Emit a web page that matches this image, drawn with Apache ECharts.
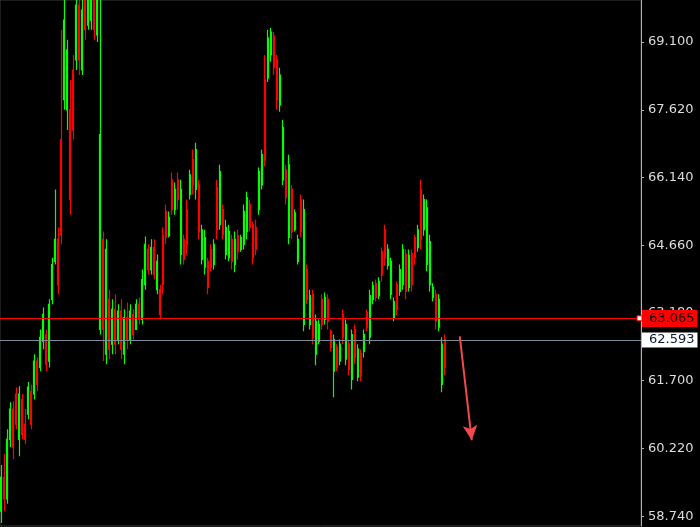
<!DOCTYPE html>
<html>
<head>
<meta charset="utf-8">
<script src="https://cdn.jsdelivr.net/npm/echarts@6/dist/echarts.min.js"></script>
<style>
html,body{margin:0;padding:0;background:#000;}
#c{width:700px;height:527px;}
</style>
</head>
<body>
<div id="c"></div>
<script>
// ---- data ----
const categories = Array.from({length: 214}, (_, i) => String(i + 1));
const openP = [
58.85,59.59,59.12,60.42,61.08,61.41,60.42,61.29,60.75,60.97,
61.47,61.41,62.13,61.99,62.56,62.71,62.13,63.48,64.31,64.79,
66.97,67.84,67.62,67.62,68.49,68.71,69.91,68.49,70.24,69.47,
69.58,70.46,69.26,62.82,64.79,62.28,63.48,62.50,63.26,62.60,
63.22,62.28,63.08,62.60,63.15,62.82,63.37,63.04,63.80,64.57,
64.13,64.61,63.69,63.69,64.87,65.40,64.87,66.09,65.44,66.09,
64.46,64.79,65.44,65.77,66.53,65.88,65.98,64.35,64.18,64.31,
64.57,64.24,65.92,65.11,65.44,64.46,64.39,64.79,64.24,64.87,
64.57,64.68,64.96,65.55,65.11,65.05,65.44,65.98,68.27,68.32,
68.82,69.23,68.71,67.73,66.09,66.31,64.83,65.88,65.00,64.31,
65.66,62.93,64.13,62.93,63.59,62.28,62.56,63.48,63.04,63.48,
62.78,61.91,62.43,62.13,63.15,62.17,62.50,61.73,62.82,61.78,
62.30,62.34,63.19,62.65,63.48,63.83,63.56,64.52,65.00,64.22,
63.59,63.08,63.80,63.65,63.80,64.46,63.74,64.48,64.83,64.61,
65.88,65.00,64.24,63.80,63.52,63.59,62.87,61.62,62.60
];
const closeP = [
59.59,59.12,60.42,61.08,60.25,60.75,61.41,60.53,60.42,61.56,
60.75,62.13,61.62,62.65,63.15,62.06,63.37,64.24,64.79,63.80,
64.89,69.58,68.93,65.66,67.18,69.91,68.71,69.80,69.37,70.46,
70.24,69.37,70.24,67.08,62.82,64.57,62.39,63.26,62.50,63.22,
62.39,63.08,62.60,63.22,62.71,63.37,63.04,63.91,64.68,64.13,
64.61,64.02,64.31,63.15,63.80,64.83,65.27,65.44,65.88,65.66,
65.88,64.35,64.68,66.20,65.98,66.75,64.96,65.00,64.83,63.74,
64.18,64.68,65.00,66.27,64.89,65.05,64.96,64.31,64.79,64.52,
64.83,65.40,65.70,65.05,64.39,64.57,66.27,66.64,66.53,69.19,
69.32,68.54,67.84,68.38,67.23,65.70,66.42,64.96,65.37,64.79,
64.96,65.44,63.48,63.56,62.65,63.00,62.93,62.93,63.52,63.00,
62.43,62.60,61.99,62.50,62.65,62.93,61.95,62.71,62.21,62.39,
61.82,62.71,62.87,63.56,63.78,63.52,63.87,64.00,64.39,64.57,
64.31,63.43,63.26,64.13,64.57,63.65,64.44,63.80,64.39,65.00,
64.79,65.66,65.48,64.74,63.74,63.00,63.48,62.50,61.99
];
const highP = [
59.86,60.10,60.64,61.23,61.25,61.56,61.58,61.41,61.08,61.67,
61.62,62.28,62.21,62.82,63.30,62.82,63.48,64.39,65.88,65.05,
69.37,70.24,69.15,68.27,68.82,70.46,70.67,70.46,70.89,71.11,
70.89,71.33,70.67,70.67,64.96,64.79,63.69,63.48,63.59,63.37,
63.48,63.26,63.41,63.37,63.26,63.48,63.52,64.13,64.85,64.68,
64.79,64.79,64.46,63.80,65.05,65.55,65.40,66.25,66.03,66.25,
66.09,64.89,65.66,66.31,66.75,66.90,66.09,65.11,65.00,64.39,
64.68,64.79,66.09,66.42,65.55,65.22,65.11,64.89,64.96,65.00,
64.89,65.55,65.83,65.66,65.18,65.22,66.36,66.75,68.82,69.37,
69.41,69.32,68.82,68.54,67.40,66.42,66.64,65.98,65.44,64.89,
65.77,65.66,64.24,63.69,63.69,63.15,63.04,63.59,63.63,63.59,
62.82,62.71,62.50,62.60,63.26,63.04,62.60,62.82,62.93,62.50,
62.39,62.82,63.26,63.69,63.87,63.91,63.96,64.61,65.11,64.68,
64.39,63.52,63.87,64.24,64.68,64.57,64.57,64.57,64.89,65.11,
66.09,65.77,65.66,64.89,63.83,63.69,63.59,62.65,62.71
];
const lowP = [
58.59,58.85,59.01,60.25,59.99,60.64,60.05,60.42,60.31,60.86,
60.64,61.29,61.47,61.91,62.39,61.91,61.99,63.37,64.24,63.59,
64.68,67.62,67.18,65.33,66.97,68.49,68.38,68.38,69.15,69.37,
69.37,69.15,69.10,62.71,62.13,62.06,62.17,62.28,62.28,62.50,
62.17,62.06,62.39,62.50,62.60,62.82,62.93,62.93,63.69,64.02,
64.02,63.91,63.59,63.04,63.59,64.68,64.83,65.33,65.33,65.44,
64.24,64.24,64.46,65.66,65.77,65.66,64.79,64.24,64.02,63.59,
64.09,64.13,64.79,65.00,64.79,64.35,64.31,64.13,64.07,64.35,
64.52,64.57,64.79,64.96,64.24,64.44,65.33,65.88,66.38,68.23,
68.67,68.38,67.62,67.58,65.98,65.55,64.68,64.79,64.96,64.24,
64.83,62.78,63.37,62.82,62.50,62.04,62.50,62.82,62.93,62.82,
62.34,61.34,61.91,62.04,62.50,62.04,61.82,61.51,62.06,61.69,
61.69,62.21,62.78,62.50,63.37,63.43,63.48,63.87,64.22,64.13,
63.48,63.00,63.13,63.56,63.69,63.48,63.65,63.65,64.24,64.52,
64.57,64.87,64.09,63.65,63.43,62.82,62.78,61.45,61.82
];
const priceTicks = [58.74, 60.22, 61.70, 63.18, 64.66, 66.14, 67.62, 69.10];
const bidLevel = 63.065;
const askLevel = 62.593;
const arrowStart = ['154', 62.67];
const arrowEnd = ['158', 60.40];

// ---- chart ----
const ohlc = openP.map((o, i) => [o, closeP[i], lowP[i], highP[i]]);
const FONT = 'DejaVu Sans';
const chart = echarts.init(document.getElementById('c'), null, {renderer: 'canvas'});
chart.setOption({
  backgroundColor: '#000000',
  animation: false,
  grid: {left: 0, right: 59, top: 0, bottom: 1, show: true, borderColor: '#3a3a3a', borderWidth: 1, backgroundColor: '#000'},
  xAxis: {
    type: 'category', data: categories, boundaryGap: true,
    axisLine: {show: false}, axisTick: {show: false}, axisLabel: {show: false}, splitLine: {show: false}
  },
  yAxis: {
    type: 'value', position: 'right', min: 58.526, max: 70.02, scale: true,
    axisLine: {show: true, lineStyle: {color: '#b4b4b4', width: 1}},
    axisTick: {show: true, length: 3, customValues: priceTicks, lineStyle: {color: '#b4b4b4'}},
    axisLabel: {
      customValues: priceTicks, formatter: v => v.toFixed(3),
      color: '#dcdcdc', fontFamily: FONT, fontSize: 13, margin: 7
    },
    splitLine: {show: false}
  },
  series: [{
    type: 'candlestick',
    data: ohlc,
    barWidth: 1.5,
    clip: true,
    itemStyle: {color: '#00ff00', color0: '#ff0000', borderColor: '#00ff00', borderColor0: '#ff0000', borderWidth: 1.2},
    markPoint: {
      silent: true,
      data: [{coord: [categories[categories.length - 1], bidLevel], symbol: 'rect', symbolSize: 5,
        itemStyle: {color: '#ffffff', borderColor: '#ff0000', borderWidth: 1}, label: {show: false}}]
    },
    markLine: {
      silent: true,
      symbol: ['none', 'none'],
      data: [
        {yAxis: bidLevel, lineStyle: {color: '#ff0000', width: 1, type: 'solid'},
          label: {show: true, position: 'end', formatter: bidLevel.toFixed(3), distance: 1,
            backgroundColor: '#ff0000', color: '#120000', fontFamily: FONT, fontSize: 13, padding: [2, 3, 2, 7]}},
        {yAxis: askLevel, lineStyle: {color: '#7f8b99', width: 1, type: 'solid'},
          label: {show: true, position: 'end', formatter: askLevel.toFixed(3), distance: 1,
            backgroundColor: '#ffffff', color: '#0c1a36', fontFamily: FONT, fontSize: 13, padding: [1, 3, 1, 7]}},
        [
          {coord: arrowStart, symbol: 'none', lineStyle: {color: '#f24a4a', width: 2, type: 'solid'}, label: {show: false}},
          {coord: arrowEnd, symbol: 'arrow', symbolSize: [11, 15]}
        ]
      ]
    }
  }]
});
</script>
</body>
</html>
